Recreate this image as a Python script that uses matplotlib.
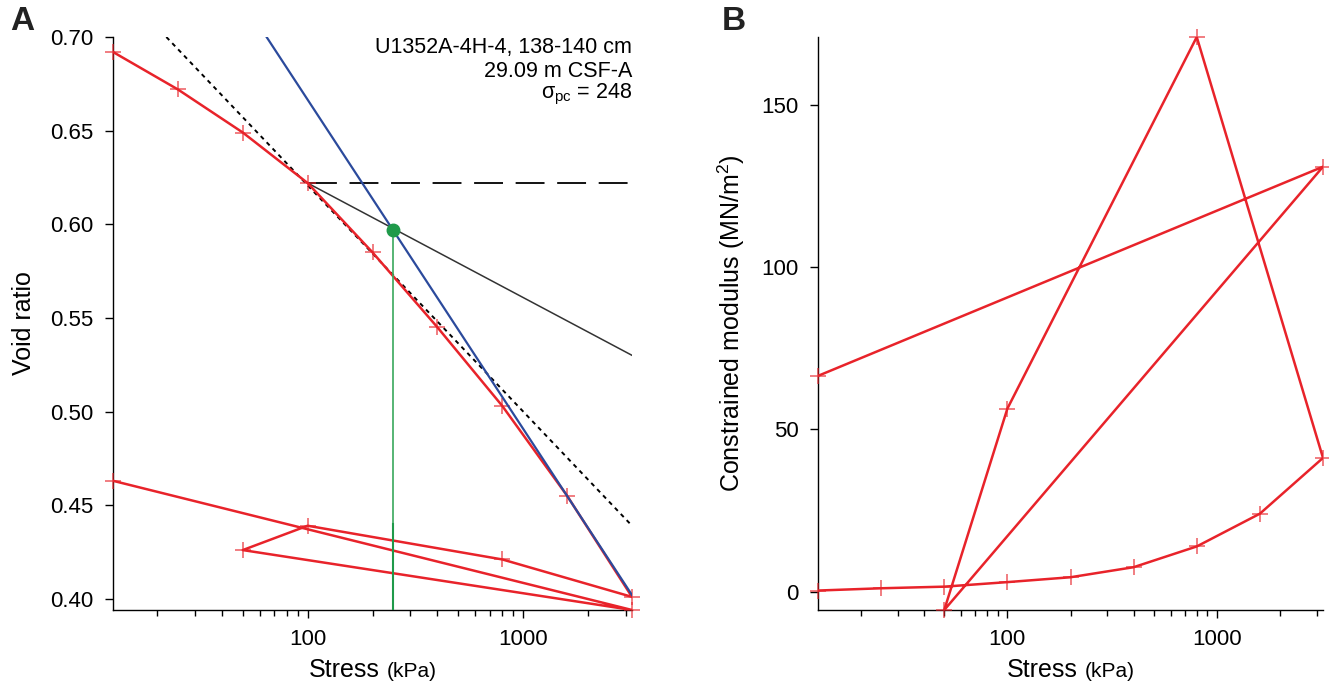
"""
Consolidation test U1352A-4H-4: void ratio and constrained modulus vs stress
"""

import matplotlib
matplotlib.use("Agg")
from matplotlib import pyplot as plt
from matplotlib.offsetbox import TextArea, HPacker, AnchoredOffsetbox
from matplotlib.ticker import LogLocator, FixedLocator, NullFormatter, FixedFormatter

plt.rcParams["font.family"] = ["Liberation Sans", "DejaVu Sans"]
plt.rcParams["mathtext.fontset"] = "custom"
plt.rcParams["mathtext.rm"] = "Liberation Sans"
plt.rcParams["mathtext.it"] = "Liberation Sans:italic"

# Test data (in test order: loading, unloading, reloading)
stress = [12.5, 25, 50, 100, 200, 400, 800, 1600, 3200, 800, 100, 50, 3200, 12.5]
void_ratio = [0.692, 0.672, 0.649, 0.622, 0.585, 0.545, 0.503, 0.455, 0.401,
              0.421, 0.439, 0.426, 0.394, 0.463]
modulus = [0.3, 1.0, 1.5, 2.9, 4.4, 7.5, 13.9, 24.0, 41.2, 171.0, 56.4, -5.7, 131.0, 66.5]

# Casagrande construction
tangent_x, tangent_y = [22.1, 3200], [0.700, 0.439]
horiz_x, horiz_y = [100, 3200], [0.622, 0.622]
bisect_x, bisect_y = [100, 3200], [0.622, 0.530]
cc_x, cc_y = [64.5, 3200], [0.700, 0.402]
sigma_pc, e_pc = 248, 0.597

red = "#e8232a"
blue = "#2b4a9c"
green = "#1f9a4a"

fig = plt.figure(figsize=(13.29, 6.83), dpi=100)
ax_a = fig.add_axes([113 / 1329, 73 / 683, 519 / 1329, 573 / 683])
ax_b = fig.add_axes([818 / 1329, 73 / 683, 505 / 1329, 573 / 683])


def style_axis(ax):
    ax.spines["top"].set_visible(False)
    ax.spines["right"].set_visible(False)
    for s in ["left", "bottom"]:
        ax.spines[s].set_linewidth(1.0)
    ax.set_xscale("log")
    ax.set_xlim(min(stress), max(stress))
    ax.xaxis.set_major_locator(FixedLocator([100, 1000]))
    ax.xaxis.set_major_formatter(FixedFormatter(["100", "1000"]))
    ax.xaxis.set_minor_locator(LogLocator(base=10, subs=range(2, 10)))
    ax.xaxis.set_minor_formatter(NullFormatter())
    ax.tick_params(which="major", length=6, width=1.0, labelsize=16, pad=8)
    ax.tick_params(which="minor", length=4, width=1.0)
    # Stress label with smaller units
    box = HPacker(children=[TextArea("Stress", textprops=dict(size=18)),
                            TextArea("(kPa)", textprops=dict(size=15)),],
                  align="baseline", pad=0, sep=5)
    ab = AnchoredOffsetbox(loc="upper center", child=box, pad=0, frameon=False,
                           bbox_to_anchor=(0.5, -0.083), bbox_transform=ax.transAxes,
                           borderpad=0)
    ax.add_artist(ab)


def red_line(ax, x, y):
    ax.plot(x, y, color=red, lw=1.8, zorder=3)
    ax.plot(x, y, ls="none", marker="+", ms=12, mew=1.1, color=red, alpha=0.75,
            clip_on=False, zorder=4)


# Panel A: void ratio
style_axis(ax_a)
ax_a.plot(tangent_x, tangent_y, color="black", lw=1.4, ls=(0, (2.2, 2.2)), zorder=2)
ax_a.plot(horiz_x, horiz_y, color="black", lw=1.3, ls=(0, (16, 7)), zorder=2)
ax_a.plot(bisect_x, bisect_y, color="#333333", lw=1.1, zorder=2)
ax_a.plot(cc_x, cc_y, color=blue, lw=1.6, zorder=5)
red_line(ax_a, stress, void_ratio)
y_low = min(void_ratio)
ax_a.plot([sigma_pc, sigma_pc], [e_pc, 0.44], color="#3aa85c", lw=1.2, zorder=6)
ax_a.plot([sigma_pc, sigma_pc], [0.44, y_low], color=green, lw=1.5, zorder=6)
ax_a.plot([sigma_pc], [e_pc], "o", color=green, ms=9, zorder=7)
ax_a.set_ylim(y_low, 0.70)
ax_a.set_yticks([0.40, 0.45, 0.50, 0.55, 0.60, 0.65, 0.70])
ax_a.set_yticklabels(["0.40", "0.45", "0.50", "0.55", "0.60", "0.65", "0.70"])
ax_a.set_ylabel("Void ratio", fontsize=18, labelpad=10)
ax_a.text(1.0, 1.0, "U1352A-4H-4, 138-140 cm\n29.09 m CSF-A", transform=ax_a.transAxes,
          ha="right", va="top", fontsize=15.5, linespacing=1.2)
ax_a.text(1.0, 0.922, r"$\mathrm{σ_{pc}}$ = 248", transform=ax_a.transAxes,
          ha="right", va="top", fontsize=15.5)

# Panel B: constrained modulus
style_axis(ax_b)
red_line(ax_b, stress, modulus)
ax_b.set_ylim(min(modulus), max(modulus))
ax_b.set_yticks([0, 50, 100, 150])
ax_b.set_ylabel(r"Constrained modulus (MN/m$^{2}$)", fontsize=18, labelpad=10)

fig.text(10 / 1329, 1 - 6 / 683, "A", fontsize=24, fontweight="bold", va="top", color="#222222")
fig.text(722 / 1329, 1 - 6 / 683, "B", fontsize=24, fontweight="bold", va="top", color="#222222")

plt.savefig("out.png", dpi=100)
